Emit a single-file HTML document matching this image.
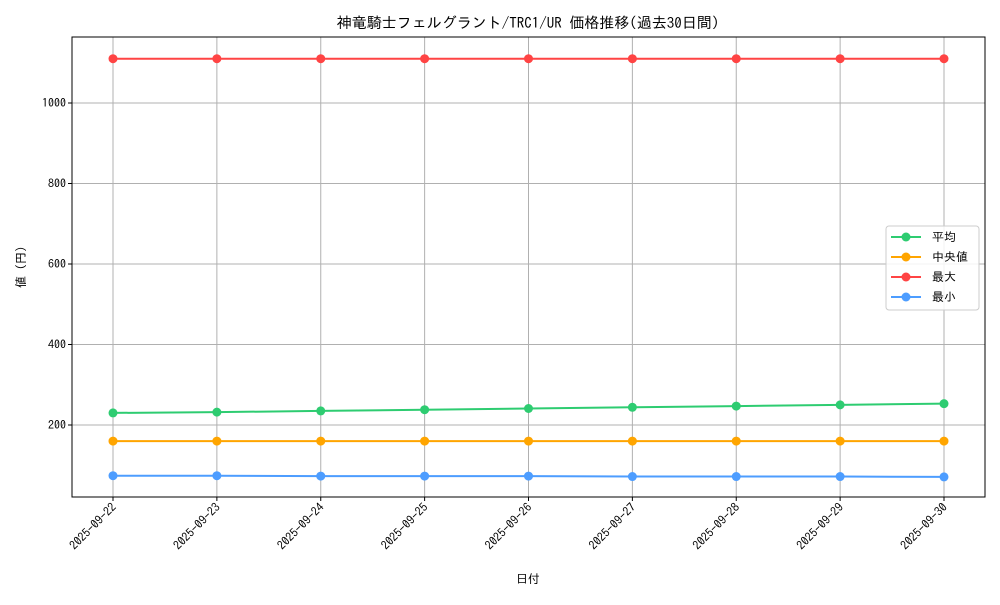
<!DOCTYPE html>
<html><head><meta charset="utf-8"><style>
body{margin:0;background:#fff;}
svg text{font-family:"IPAGothic","Noto Sans CJK JP",monospace;fill:#000;}
</style></head><body>
<svg id="chart" width="1000" height="600" xmlns="http://www.w3.org/2000/svg">
<rect width="1000" height="600" fill="#fff"/>
<text x="528" y="28" font-size="15" text-anchor="middle">神竜騎士フェルグラント/TRC1/UR 価格推移(過去30日間)</text>
<text x="528" y="583" font-size="12" text-anchor="middle">日付</text>
<text x="25" y="267" font-size="12" text-anchor="middle" transform="rotate(-90 25 267)">値 (円)</text>
<g id="grid"></g><g id="series"></g><g id="ticks"></g>
<rect x="72" y="37" width="913" height="460" fill="none" stroke="#000" stroke-width="1"/>
<g id="legend"></g>
</svg>
<script>
const categories=["2025-09-22","2025-09-23","2025-09-24","2025-09-25","2025-09-26","2025-09-27","2025-09-28","2025-09-29","2025-09-30"];
const avgValues=[230,232,235,238,241,244,247,250,253];
const medianValues=[160,160,160,160,160,160,160,160,160];
const maxValues=[1110,1110,1110,1110,1110,1110,1110,1110,1110];
const minValues=[74,74,73,73,73,72,72,72,71];
const yTicks=[200,400,600,800,1000];
const seriesNames=["平均","中央値","最大","最小"];
const NS="http://www.w3.org/2000/svg";
function X(i){return 113+i*(944-113)/(categories.length-1);}
function Y(v){return 425-(v-200)*0.4025;}
function mk(t,a,p){const e=document.createElementNS(NS,t);for(const k in a)e.setAttribute(k,a[k]);p.appendChild(e);return e;}
const grid=document.getElementById('grid'),ticks=document.getElementById('ticks'),ser=document.getElementById('series'),leg=document.getElementById('legend');
categories.forEach((c,i)=>{
 const l=mk('line',{x1:X(i),x2:X(i),y1:37,y2:497,stroke:'#b0b0b0','stroke-width':1},grid);
 
 
 mk('line',{x1:X(i),x2:X(i),y1:497,y2:501,stroke:'#000'},ticks);
 const t=mk('text',{x:X(i)+4,y:508,'font-size':12,'text-anchor':'end',transform:`rotate(-45 ${X(i)+4} 508)`},ticks);
 t.textContent=c;
 
 
});
yTicks.forEach(v=>{
 const l=mk('line',{x1:72,x2:985,y1:Y(v),y2:Y(v),stroke:'#b0b0b0','stroke-width':1},grid);
 
 
 mk('line',{x1:68,x2:72,y1:Y(v),y2:Y(v),stroke:'#000'},ticks);
 const t=mk('text',{x:66,y:Y(v)+4,'font-size':12,'text-anchor':'end'},ticks);
 t.textContent=v;
 
 
});
const all=[[avgValues,'#2ecc71','avg'],[medianValues,'#ffa500','median'],[maxValues,'#ff4444','max'],[minValues,'#4d9dff','min']];
all.forEach(([vals,col,n])=>{
 const p=mk('polyline',{points:vals.map((v,i)=>X(i)+','+Y(v)).join(' '),fill:'none',stroke:col,'stroke-width':2},ser);
 
 
 vals.forEach((v,i)=>{
  const c=mk('circle',{cx:X(i),cy:Y(v),r:4.5,fill:col},ser);
  
  
 });
});
mk('rect',{x:886,y:226,width:93,height:84,rx:3,fill:'#fff','fill-opacity':0.85,stroke:'#ccc'},leg);
all.forEach(([v,col,n],k)=>{
 const y=237+k*20;
 const g=mk('g',{},leg);
 
 
 mk('line',{x1:891,x2:921,y1:y,y2:y,stroke:col,'stroke-width':2},g);
 mk('circle',{cx:906,cy:y,r:4.5,fill:col},g);
 const t=mk('text',{x:932,y:y+4,'font-size':12},g);
 t.textContent=seriesNames[k];
});
</script>
</body></html>
